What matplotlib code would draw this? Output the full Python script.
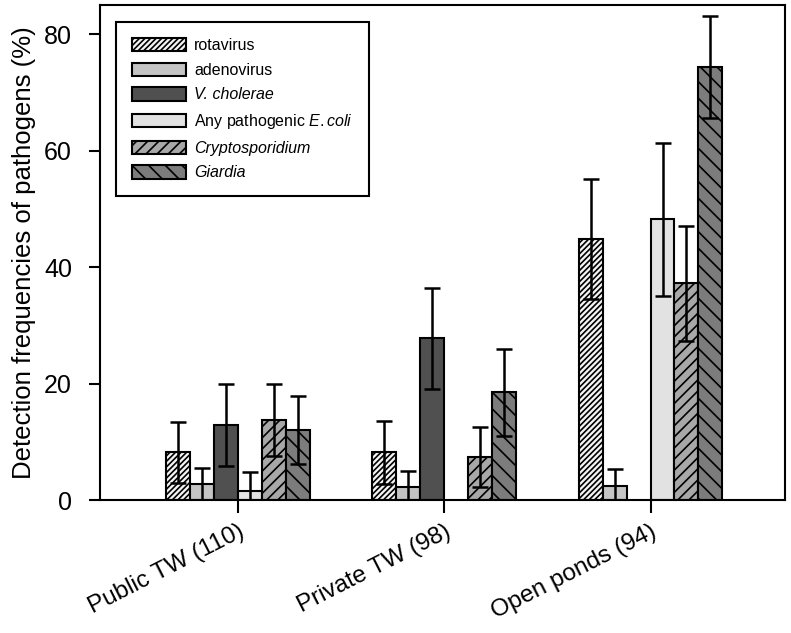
import numpy as np
import matplotlib
matplotlib.use("Agg")
import matplotlib.pyplot as plt

plt.rcParams['font.family'] = ['Liberation Sans', 'DejaVu Sans']
plt.rcParams['mathtext.fontset'] = 'custom'
plt.rcParams['mathtext.rm'] = 'Liberation Sans'
plt.rcParams['mathtext.it'] = 'Liberation Sans:italic'
plt.rcParams['hatch.linewidth'] = 1.2

# data
groups = ["Public TW (110)", "Private TW (98)", "Open ponds (94)"]
pathogens = ["rotavirus", "adenovirus", "V. cholerae", "Any pathogenic $\\mathit{E.coli}$",
             "Cryptosporidium", "Giardia"]
italic = [False, False, True, False, True, True]

# means per pathogen (rows) for each group (cols)
means = [
    [8.2, 8.2, 44.9],    # rotavirus
    [2.7, 2.2, 2.4],     # adenovirus
    [12.9, 27.8, 0.0],   # V. cholerae
    [1.5, 0.0, 48.2],    # E. coli
    [13.7, 7.4, 37.2],   # Cryptosporidium
    [12.0, 18.5, 74.4],  # Giardia
]
upper = [
    [13.4, 13.6, 55.2],
    [5.5, 5.0, 5.3],
    [19.9, 36.5, None],
    [4.8, None, 61.4],
    [19.9, 12.5, 47.0],
    [17.8, 26.0, 83.2],
]

colors = ["#f4f4f4", "#c4c4c4", "#505050", "#e2e2e2", "#a8a8a8", "#7c7c7c"]
hatches = ["//////", "", "", "", "///", "\\\\"]

fig = plt.figure(figsize=(7.91, 6.33), dpi=100)
ax = fig.add_axes([0.126, 0.21, 0.866, 0.782])

x = np.arange(len(groups))
w = 0.116
for i, name in enumerate(pathogens):
    pos = x + (i - 2.5) * w
    vals = np.array(means[i])
    err = np.array([0 if u is None else u - m for u, m in zip(upper[i], means[i])])
    mask = vals > 0
    ax.bar(pos[mask], vals[mask], w, color=colors[i], edgecolor="black",
           linewidth=1.5, hatch=hatches[i], label=name, zorder=2)
    emask = err > 0
    ax.errorbar(pos[emask], vals[emask], yerr=err[emask], fmt="none",
                ecolor="black", elinewidth=1.8, capsize=6, capthick=1.8, zorder=3)

ax.set_xlim(-0.67, 2.65)
ax.set_ylim(0, 85)
ax.set_yticks([0, 20, 40, 60, 80])
ax.set_xticks(x)
ax.set_xticklabels(groups, rotation=27, ha="right", rotation_mode="anchor", fontsize=17.5)
ax.tick_params(axis="y", labelsize=18, width=1.5, length=8, direction="out", pad=12)
ax.tick_params(axis="x", width=1.5, length=9, direction="out", pad=6)
for s in ax.spines.values():
    s.set_linewidth(1.5)
ax.set_ylabel("Detection frequencies of pathogens (%)", fontsize=18.5, labelpad=6)

leg = ax.legend(loc="upper left", bbox_to_anchor=(0.024, 0.966), borderaxespad=0,
                fontsize=11.5, fancybox=False, edgecolor="black", framealpha=1,
                handlelength=3.4, handleheight=0.9, labelspacing=0.6,
                handletextpad=0.5, borderpad=1.0)
leg.get_frame().set_linewidth(1.5)
for t, it in zip(leg.get_texts(), italic):
    if it:
        t.set_fontstyle("italic")

fig.savefig("out.png", dpi=100)
